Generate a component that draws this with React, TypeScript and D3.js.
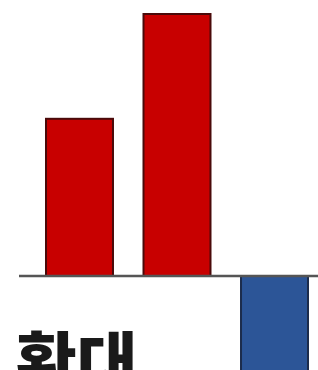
import React from 'react';
import * as d3 from 'd3';

// Data
const categories = ['A', 'B', 'C'];
const values = [3.0, 5.0, -2.0];
const label = '확대';

const App = () => {
  const width = 318;
  const height = 370;
  const baseY = 276;

  // Scales
  const x = d3.scaleBand<string>()
    .domain(categories)
    .range([46, 308])
    .paddingInner(0.313)
    .paddingOuter(0);

  const y = d3.scaleLinear()
    .domain([0, 5])
    .range([baseY, 14]);

  return (
    <svg
      width={width}
      height={height}
      style={{ position: 'fixed', left: 0, top: 0, background: '#fff' }}
    >
      {/* bars */}
      {categories.map((c, i) => {
        const v = values[i];
        const y0 = y(Math.max(0, v));
        const y1 = y(Math.min(0, v));
        const pos = v >= 0;
        return (
          <rect
            key={c}
            x={x(c)}
            y={y0}
            width={x.bandwidth()}
            height={y1 - y0}
            fill={pos ? '#c80000' : '#2c5597'}
            stroke={pos ? '#4a0a0a' : '#1c2c4c'}
            strokeWidth={2}
          />
        );
      })}

      {/* zero line */}
      <line x1={19} x2={width} y1={y(0)} y2={y(0)} stroke="#555" strokeWidth={2.5} />

      <text
        x={16}
        y={387}
        fontFamily="'Noto Sans CJK KR', sans-serif"
        fontWeight={900}
        fontSize={66}
        fill="#1a1a1a"
      >
        {label}
      </text>
    </svg>
  );
};

export default App;
